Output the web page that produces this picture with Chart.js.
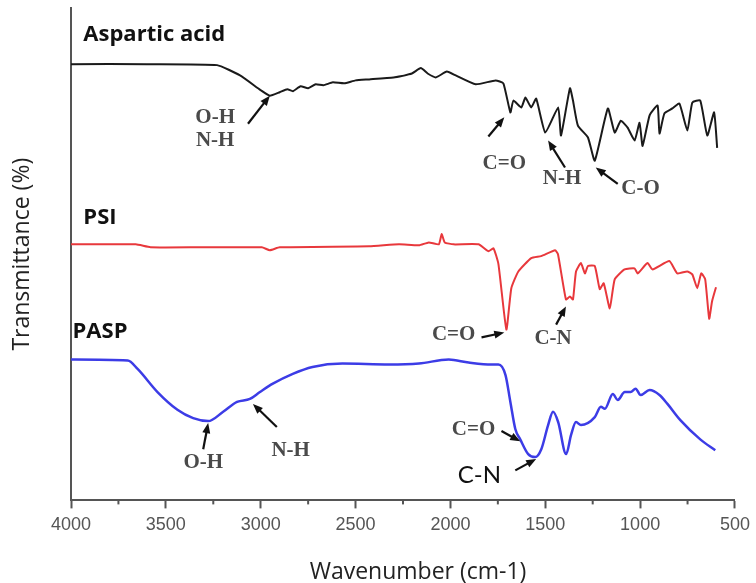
<!DOCTYPE html>
<html lang="en">
<head>
  <meta charset="UTF-8" />
  <title>FTIR - Aspartic acid, PSI, PASP</title>
  <script src="https://cdn.jsdelivr.net/npm/chart.js"></script>
  <style>
    body { margin: 0; background: #fff; }
  </style>
</head>
<body>
  <canvas id="grafico" width="756" height="583"></canvas>

  <script>
    // Espectros FTIR (transmitância deslocada, unidades arbitrárias 0-100)
    const aspWn = [4000, 3600, 3230, 3109, 3000, 2952, 2900, 2860, 2830, 2790, 2750, 2710, 2670, 2620, 2560, 2500, 2428, 2300, 2203, 2156, 2120, 2077, 2019, 1972, 1867, 1762, 1721, 1684, 1668, 1626, 1605, 1574, 1548, 1500, 1432, 1417, 1370, 1354, 1328, 1275, 1239, 1170, 1134, 1102, 1066, 1029, 1003, 987, 950, 908, 898, 872, 830, 793, 751, 725, 683, 646, 610, 594];
    const aspT  = [88.6, 88.6, 88.4, 86.3, 83.3, 82.2, 82.9, 83.5, 83.1, 84.1, 83.7, 84.5, 84.3, 84.9, 84.7, 85.3, 85.5, 85.9, 86.7, 87.8, 86.7, 85.9, 87.1, 86.3, 84.5, 85.3, 84.7, 78.8, 81.2, 79.8, 81.8, 79.8, 81.6, 74.7, 79.8, 74.1, 83.7, 81.2, 76.1, 73.7, 69.0, 79.6, 74.7, 77.1, 75.7, 73.1, 76.7, 72.0, 78.2, 80.2, 74.5, 78.6, 79.6, 80.6, 75.1, 80.8, 81.2, 74.1, 78.8, 71.6];

    const psiWn = [4000, 3659, 3581, 3319, 2994, 2952, 2900, 2428, 2271, 2166, 2114, 2061, 2046, 2030, 1983, 1852, 1800, 1773, 1747, 1705, 1679, 1642, 1574, 1522, 1448, 1433, 1391, 1370, 1354, 1338, 1312, 1291, 1275, 1239, 1213, 1192, 1160, 1134, 1082, 1029, 1013, 961, 935, 846, 804, 752, 725, 699, 678, 657, 636, 621, 600];
    const psiT  = [52.0, 52.0, 51.4, 51.4, 51.4, 50.8, 51.4, 51.6, 52.0, 51.8, 52.4, 52.0, 54.1, 52.4, 52.0, 52.0, 50.6, 51.2, 48.0, 34.7, 43.1, 46.5, 49.2, 49.6, 50.8, 50.0, 40.8, 41.4, 40.8, 46.5, 48.2, 46.1, 47.6, 47.6, 42.9, 44.1, 39.0, 44.9, 46.9, 47.1, 46.1, 48.2, 46.9, 48.6, 46.1, 46.5, 45.9, 43.1, 46.1, 44.9, 36.9, 40.4, 43.3];

    const paspWn = [4000, 3701, 3649, 3544, 3439, 3356, 3277, 3198, 3125, 3057, 3004, 2936, 2831, 2727, 2569, 2323, 2166, 2009, 1904, 1783, 1747, 1710, 1684, 1658, 1632, 1590, 1553, 1521, 1485, 1459, 1432, 1390, 1364, 1338, 1312, 1239, 1207, 1186, 1144, 1118, 1081, 1050, 1024, 997, 950, 898, 856, 788, 683, 604];
    const paspT  = [28.6, 28.4, 26.7, 22.0, 18.4, 16.7, 16.1, 18.0, 20.0, 20.6, 22.0, 23.7, 25.7, 27.1, 27.8, 27.6, 27.8, 28.6, 28.0, 27.6, 27.6, 25.5, 20.0, 14.5, 12.4, 9.4, 8.8, 10.4, 15.3, 18.0, 15.9, 9.4, 13.3, 15.9, 15.3, 16.9, 19.0, 18.6, 21.6, 20.4, 22.0, 22.0, 22.7, 21.4, 22.4, 21.4, 19.6, 16.3, 12.4, 10.2];

    const nomes = ["Aspartic acid", "PSI", "PASP"];
    const xTicks = [4000, 3500, 3000, 2500, 2000, 1500, 1000, 500];

    const pontos = (wn, t) => wn.map((x, i) => ({ x, y: t[i] }));

    // Rótulos dos espectros e das bandas (posições em unidades dos eixos)
    const rotulos = [
      { texto: nomes[0], wn: 3935, t: 94.5 },
      { texto: nomes[1], wn: 3935, t: 57.5 },
      { texto: nomes[2], wn: 3992, t: 34.3 }
    ];

    const bandas = [
      { texto: "O-H", wn: 3240, t: 77.8 },
      { texto: "N-H", wn: 3240, t: 73.1 },
      { texto: "C=O", wn: 1716, t: 68.4 },
      { texto: "N-H", wn: 1412, t: 65.3 },
      { texto: "C-O", wn: 998, t: 63.3 },
      { texto: "C=O", wn: 1983, t: 33.7 },
      { texto: "C-N", wn: 1459, t: 32.9 },
      { texto: "O-H", wn: 3303, t: 7.6 },
      { texto: "N-H", wn: 2842, t: 10.2 },
      { texto: "C=O", wn: 1878, t: 14.3 },
      { texto: "C-N", wn: 1847, t: 5.1, sans: true }
    ];

    const setas = [
      [3067, 76.5, 2952, 82.2],
      [1800, 73.9, 1716, 77.8],
      [1396, 67.6, 1485, 73.1],
      [1118, 64.3, 1234, 67.6],
      [1836, 33.1, 1716, 34.1],
      [1443, 35.7, 1391, 39.4],
      [3303, 10.4, 3277, 15.7],
      [2915, 14.9, 3041, 19.6],
      [1731, 14.1, 1632, 12.0],
      [1658, 6.1, 1548, 8.4]
    ];

    function desenhaSeta(ctx, x1, y1, x2, y2) {
      const ang = Math.atan2(y2 - y1, x2 - x1);
      const cab = 10;
      ctx.beginPath();
      ctx.moveTo(x1, y1);
      ctx.lineTo(x2 - Math.cos(ang) * cab * 0.6, y2 - Math.sin(ang) * cab * 0.6);
      ctx.stroke();
      ctx.beginPath();
      ctx.moveTo(x2, y2);
      ctx.lineTo(x2 - cab * Math.cos(ang) + 4 * Math.sin(ang), y2 - cab * Math.sin(ang) - 4 * Math.cos(ang));
      ctx.lineTo(x2 - cab * Math.cos(ang) - 4 * Math.sin(ang), y2 - cab * Math.sin(ang) + 4 * Math.cos(ang));
      ctx.closePath();
      ctx.fill();
    }

    const anotacoes = {
      id: "anotacoes",
      afterDraw(chart) {
        const { ctx, scales: { x, y }, chartArea } = chart;
        ctx.save();

        // ticks menores (a cada 250)
        ctx.strokeStyle = "#555";
        ctx.lineWidth = 2;
        for (let v = 3750; v > 500; v -= 500) {
          const px = x.getPixelForValue(v);
          ctx.beginPath();
          ctx.moveTo(px, chartArea.bottom);
          ctx.lineTo(px, chartArea.bottom + 4);
          ctx.stroke();
        }

        // nomes dos espectros
        ctx.fillStyle = "#111";
        ctx.font = "bold 22px 'Open Sans'";
        ctx.textAlign = "left";
        ctx.textBaseline = "middle";
        rotulos.forEach(r => ctx.fillText(r.texto, x.getPixelForValue(r.wn), y.getPixelForValue(r.t)));

        // bandas
        ctx.textAlign = "center";
        bandas.forEach(b => {
          if (b.sans) {
            ctx.font = "24px Lato";
            ctx.fillStyle = "#111";
          } else {
            ctx.font = "bold 21px 'Liberation Serif'";
            ctx.fillStyle = "#4a4a4a";
          }
          ctx.fillText(b.texto, x.getPixelForValue(b.wn), y.getPixelForValue(b.t));
        });

        // setas
        ctx.strokeStyle = "#111";
        ctx.fillStyle = "#111";
        ctx.lineWidth = 2.2;
        setas.forEach(s => desenhaSeta(ctx,
          x.getPixelForValue(s[0]), y.getPixelForValue(s[1]),
          x.getPixelForValue(s[2]), y.getPixelForValue(s[3])));

        // títulos dos eixos
        ctx.fillStyle = "#222";
        ctx.font = "23px 'Open Sans'";
        ctx.textAlign = "center";
        ctx.fillText("Wavenumber (cm-1)", 418, 572);
        ctx.translate(22, (chartArea.top + chartArea.bottom) / 2);
        ctx.rotate(-Math.PI / 2);
        ctx.fillText("Transmittance (%)", 0, 0);

        ctx.restore();
      }
    };

    new Chart(document.getElementById("grafico"), {
      type: "line",
      data: {
        datasets: [
          { label: nomes[0], data: pontos(aspWn, aspT), borderColor: "#1a1a1a", borderWidth: 2, tension: 0.15 },
          { label: nomes[1], data: pontos(psiWn, psiT), borderColor: "#e8383c", borderWidth: 2, tension: 0.15 },
          { label: nomes[2], data: pontos(paspWn, paspT), borderColor: "#3c3ce6", borderWidth: 2.5, cubicInterpolationMode: "monotone" }
        ]
      },
      options: {
        responsive: false,
        animation: false,
        elements: { point: { radius: 0 } },
        layout: { padding: { left: 63, top: 8, right: 12, bottom: 41 } },
        plugins: {
          legend: { display: false },
          tooltip: { enabled: false }
        },
        scales: {
          x: {
            type: "linear",
            reverse: true,
            min: 500,
            max: 4000,
            afterBuildTicks: axis => { axis.ticks = xTicks.map(v => ({ value: v })); },
            ticks: {
              color: "#555",
              font: { family: "'Liberation Sans'", size: 18 },
              padding: 6,
              maxRotation: 0,
              callback: v => String(v)
            },
            grid: { display: true, drawOnChartArea: false, drawTicks: true, tickLength: 8, tickColor: "#555", tickWidth: 2 },
            border: { display: true, color: "#555", width: 2 }
          },
          y: {
            min: 0,
            max: 100,
            ticks: { display: false },
            grid: { display: false },
            border: { display: true, color: "#555", width: 2 }
          }
        }
      },
      plugins: [anotacoes]
    });
  </script>
</body>
</html>
